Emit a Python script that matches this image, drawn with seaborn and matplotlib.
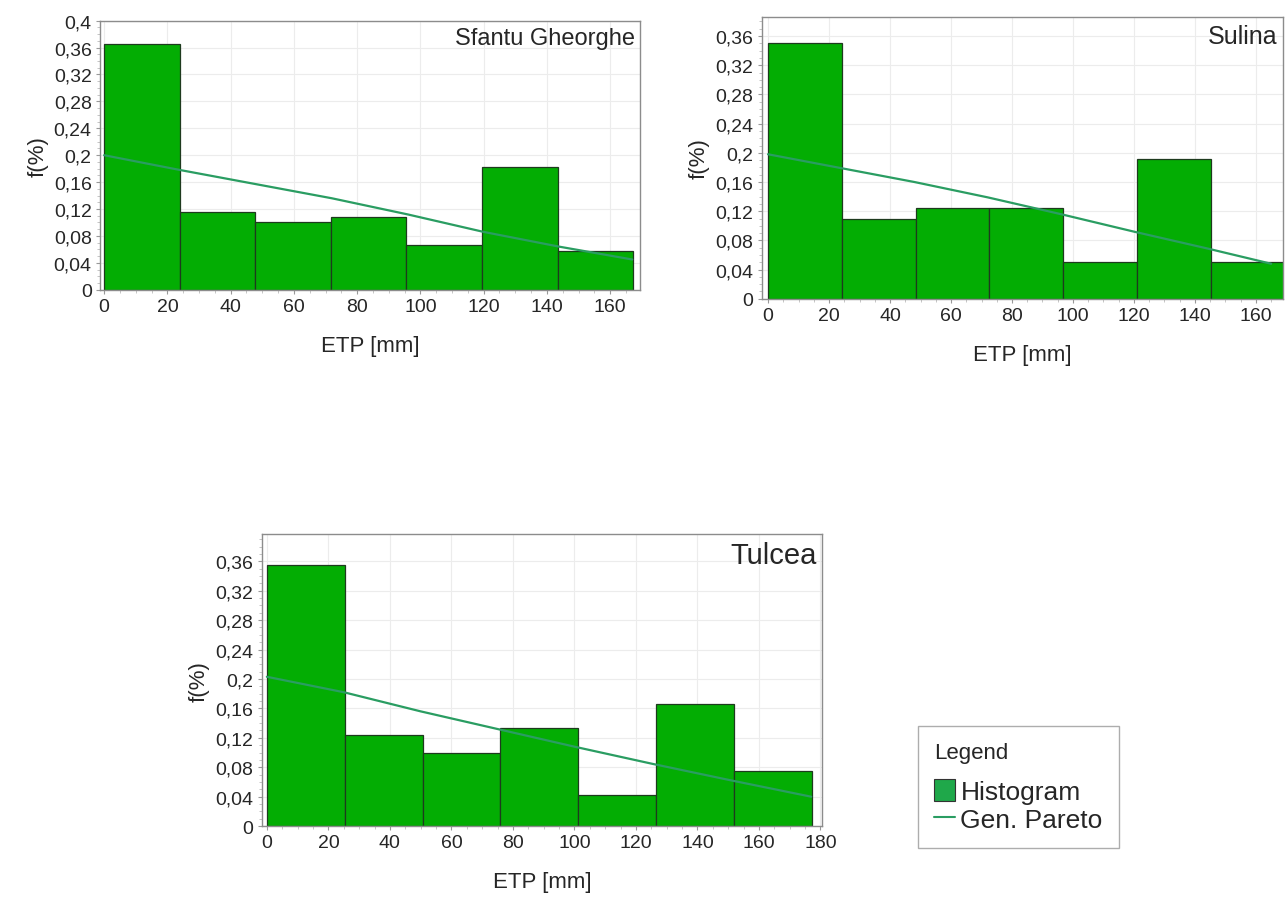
import numpy as np
import seaborn as sns
import matplotlib.pyplot as plt
from matplotlib.patches import Patch
from matplotlib.lines import Line2D
from matplotlib.ticker import FuncFormatter, MultipleLocator, AutoMinorLocator

# --- data ---
stations = ["Sfantu Gheorghe", "Sulina", "Tulcea"]

sg_edges = [0, 23.9, 47.8, 71.7, 95.6, 119.5, 143.4, 167.3]
sg_freq = [0.365, 0.115, 0.100, 0.108, 0.066, 0.182, 0.058]
sg_line_x = [0, 24, 48, 72, 96, 120, 144, 167]
sg_line_y = [0.200, 0.178, 0.157, 0.136, 0.112, 0.086, 0.064, 0.045]

su_edges = [0, 24.2, 48.4, 72.6, 96.8, 121.0, 145.2, 169.4]
su_freq = [0.350, 0.110, 0.125, 0.125, 0.050, 0.192, 0.050]
su_line_x = [0, 24, 48, 72, 96, 120, 144, 165]
su_line_y = [0.198, 0.179, 0.160, 0.139, 0.116, 0.092, 0.069, 0.048]

tu_edges = [0, 25.3, 50.6, 75.9, 101.2, 126.5, 151.8, 177.1]
tu_freq = [0.355, 0.124, 0.100, 0.133, 0.043, 0.166, 0.075]
tu_line_x = [0, 25, 50, 75, 100, 125, 150, 177]
tu_line_y = [0.203, 0.182, 0.156, 0.132, 0.108, 0.085, 0.063, 0.040]

sns.set_style("whitegrid")
plt.rcParams["font.family"] = ["Liberation Sans", "DejaVu Sans"]

bar_color = "#03ad03"
line_color = "#2a9d62"

fig = plt.figure(figsize=(12.86, 9.03), dpi=100)

panels = [
    # name, data..., axes rect, xlim, ylim, last x tick, name font size
    (stations[0], sg_edges, sg_freq, sg_line_x, sg_line_y,
     [0.0778, 0.678, 0.42, 0.298], (-1.3, 169.5), (0, 0.4), 160, 17),
    (stations[1], su_edges, su_freq, su_line_x, su_line_y,
     [0.5925, 0.668, 0.405, 0.312], (-2, 168.8), (0, 0.386), 160, 18),
    (stations[2], tu_edges, tu_freq, tu_line_x, tu_line_y,
     [0.2037, 0.084, 0.4355, 0.3235], (-1.6, 180.5), (0, 0.397), 180, 21),
]

fmt = FuncFormatter(lambda v, p: f"{v:g}".replace(".", ","))

for name, edges, freq, lx, ly, rect, xlim, ylim, xmax, nsize in panels:
    ax = fig.add_axes(rect)
    centers = [(a + b) / 2 for a, b in zip(edges[:-1], edges[1:])]
    sns.histplot(x=centers, weights=freq, bins=edges, ax=ax,
                 color=bar_color, alpha=1, edgecolor="#1e3a1e", linewidth=0.9)
    sns.lineplot(x=lx, y=ly, ax=ax, color=line_color, linewidth=1.6)
    ax.set_xlim(*xlim)
    ax.set_ylim(*ylim)
    ax.xaxis.set_major_locator(MultipleLocator(20))
    ax.yaxis.set_major_locator(MultipleLocator(0.04))
    ax.xaxis.set_minor_locator(AutoMinorLocator(4))
    ax.yaxis.set_minor_locator(AutoMinorLocator(4))
    ax.yaxis.set_major_formatter(fmt)
    ax.set_xticks([t for t in range(0, xmax + 1, 20)])
    ax.grid(True, which="major", color="#ececec", linewidth=0.8)
    ax.set_axisbelow(True)
    for s in ax.spines.values():
        s.set_color("#8c8c8c")
        s.set_linewidth(1.0)
    ax.tick_params(axis="both", which="major", labelsize=14, length=3,
                   color="#999999", left=True, bottom=True, pad=3)
    ax.tick_params(axis="both", which="minor", length=2, color="#bbbbbb",
                   left=True, bottom=True)
    ax.set_xlabel("ETP [mm]", fontsize=16, labelpad=14)
    ax.set_ylabel("f(%)", fontsize=16, labelpad=4)
    ax.text(0.99, 0.975, name, transform=ax.transAxes, ha="right", va="top",
            fontsize=nsize)

handles = [Patch(facecolor="#1fa84a", edgecolor="#333333", linewidth=0.8),
           Line2D([], [], color=line_color, linewidth=1.5)]
leg = fig.legend(handles, ["Histogram", "Gen. Pareto"], title="Legend",
                 loc="upper left", bbox_to_anchor=(0.714, 0.195),
                 frameon=True, fancybox=False, edgecolor="#999999",
                 fontsize=19, title_fontsize=16, handlelength=0.8,
                 handleheight=0.9, handletextpad=0.2, labelspacing=0.1,
                 borderpad=0.6, alignment="left", borderaxespad=0)
leg.get_frame().set_linewidth(1.0)
leg._legend_box.sep = 12

fig.savefig("out.png", dpi=100)
